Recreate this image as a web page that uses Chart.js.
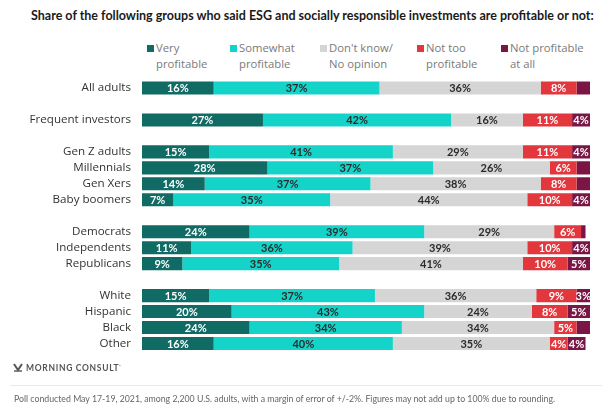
<!DOCTYPE html>
<html>
<head>
<meta charset="utf-8">
<script src="https://cdn.jsdelivr.net/npm/chart.js@4.4.1/dist/chart.umd.min.js"></script>
<style>
  html, body { margin: 0; padding: 0; background: #fff; }
  #wrap { position: relative; width: 602px; height: 411px; overflow: hidden; font-family: "Open Sans", Lato, sans-serif; }
  #title { position: absolute; left: 31px; top: 8px; white-space: nowrap; font-family: Lato, sans-serif; font-weight: 700; font-size: 12.5px; color: #1a1a1a; }
  .lg { position: absolute; top: 40px; font-size: 11.3px; line-height: 16px; color: #7a7a7a; white-space: nowrap; }
  .lg .sq { position: absolute; left: -9px; top: 5px; width: 7px; height: 7px; }
  #chart { position: absolute; left: 0; top: 0; }
  #logo { position: absolute; left: 13px; top: 362px; font-family: Lato, sans-serif; font-size: 8.5px; font-weight: 700; letter-spacing: 0.7px; color: #555; white-space: nowrap; }
  #logo svg { vertical-align: -1px; margin-right: 3px; }
  #rule { position: absolute; left: 10px; right: 0; top: 385px; height: 1px; background: #e8e8e8; }
  #note { position: absolute; left: 14px; top: 393px; font-family: Lato, sans-serif; font-size: 8.75px; color: #666; white-space: nowrap; }
</style>
</head>
<body>
<div id="wrap">
  <div id="title">Share of the following groups who said ESG and socially responsible investments are profitable or not:</div>
  <div id="legend"></div>
  <canvas id="chart" width="602" height="411"></canvas>
  <div id="logo"><svg width="10" height="9" viewBox="0 0 10 9"><path d="M1 1 L5 7 L9 1" stroke="#555" stroke-width="2" fill="none"/><path d="M1 8 L9 8" stroke="#555" stroke-width="1.4"/></svg>MORNING CONSULT<sup style="font-size:5px">&#183;</sup></div>
  <div id="rule"></div>
  <div id="note">Poll conducted May 17-19, 2021, among 2,200 U.S. adults, with a margin of error of +/-2%. Figures may not add up to 100% due to rounding.</div>
</div>
<script>
// ---- data ----
const categories = ['All adults', 'Frequent investors', 'Gen Z adults', 'Millennials', 'Gen Xers', 'Baby boomers',
  'Democrats', 'Independents', 'Republicans', 'White', 'Hispanic', 'Black', 'Other'];
const gapAfter = ['All adults', 'Frequent investors', 'Baby boomers', 'Republicans'];
const seriesNames = [['Very', 'profitable'], ['Somewhat', 'profitable'], ["Don't know/", 'No opinion'], ['Not too', 'profitable'], ['Not profitable', 'at all']];
const veryProfitable     = [16, 27, 15, 28, 14,  7, 24, 11,  9, 15, 20, 24, 16];
const somewhatProfitable = [37, 42, 41, 37, 37, 35, 39, 36, 35, 37, 43, 34, 40];
const dontKnow           = [36, 16, 29, 26, 38, 44, 29, 39, 41, 36, 24, 34, 35];
const notTooProfitable   = [ 8, 11, 11,  6,  8, 10,  6, 10, 10,  9,  8,  5,  4];
const notProfitableAtAll = [ 3,  4,  4,  3,  3,  4,  1,  4,  5,  3,  5,  3,  4];
const notAtAllLabelled   = [false, true, true, false, false, true, false, true, true, true, true, false, true];

// ---- styles ----
const colors = ['#0f6b63', '#14d3c9', '#d5d5d5', '#e2373c', '#7a1646'];
const labelColors = ['#ffffff', '#2b2b2b', '#2b2b2b', '#ffffff', '#ffffff'];
const legendX = [156, 239, 329, 426, 510];

// legend (HTML)
const lgEl = document.getElementById('legend');
seriesNames.forEach((n, i) => {
  const d = document.createElement('div');
  d.className = 'lg';
  d.style.left = legendX[i] + 'px';
  d.innerHTML = '<span class="sq" style="background:' + colors[i] + '"></span>' + n[0] + '<br>' + n[1];
  lgEl.appendChild(d);
});

// build rows with blank spacer rows between groups
const rowLabels = [];
const rowIndex = [];
categories.forEach((c, i) => {
  rowLabels.push(c); rowIndex.push(i);
  if (gapAfter.includes(c)) { rowLabels.push(''); rowIndex.push(-1); }
});
const allSeries = [veryProfitable, somewhatProfitable, dontKnow, notTooProfitable, notProfitableAtAll];
const datasets = allSeries.map((s, k) => ({
  label: seriesNames[k].join(' '),
  data: rowIndex.map(i => i < 0 ? null : s[i]),
  backgroundColor: colors[k],
  borderWidth: 0,
  barPercentage: 0.82,
  categoryPercentage: 1.0
}));

const valueLabels = {
  id: 'valueLabels',
  afterDatasetsDraw(chart) {
    const ctx = chart.ctx;
    ctx.save();
    ctx.font = '700 11px Lato, "Open Sans", sans-serif';
    ctx.textAlign = 'center';
    ctx.textBaseline = 'middle';
    chart.data.datasets.forEach((ds, k) => {
      const meta = chart.getDatasetMeta(k);
      meta.data.forEach((el, j) => {
        const v = ds.data[j];
        if (v == null) return;
        const ci = rowIndex[j];
        if (k === 4 && !notAtAllLabelled[ci]) return;
        const x = (el.x + el.base) / 2;
        ctx.fillStyle = labelColors[k];
        ctx.fillText(v + '%', x, el.y + 0.5);
      });
    });
    ctx.restore();
  }
};

new Chart(document.getElementById('chart'), {
  type: 'bar',
  data: { labels: rowLabels, datasets },
  options: {
    indexAxis: 'y',
    responsive: false,
    animation: false,
    devicePixelRatio: 1,
    layout: { padding: { top: 80, bottom: 59.5, left: 0, right: 12 } },
    scales: {
      x: { stacked: true, min: 0, max: 100, display: false },
      y: {
        stacked: true,
        grid: { display: false, drawTicks: false },
        border: { display: false },
        ticks: { color: '#333', font: { family: '"Open Sans", Lato, sans-serif', size: 11.6 }, padding: 11, autoSkip: false },
        afterFit(s) { s.width = 142; }
      }
    },
    plugins: { legend: { display: false }, tooltip: { enabled: false } }
  },
  plugins: [valueLabels]
});
</script>
</body>
</html>
